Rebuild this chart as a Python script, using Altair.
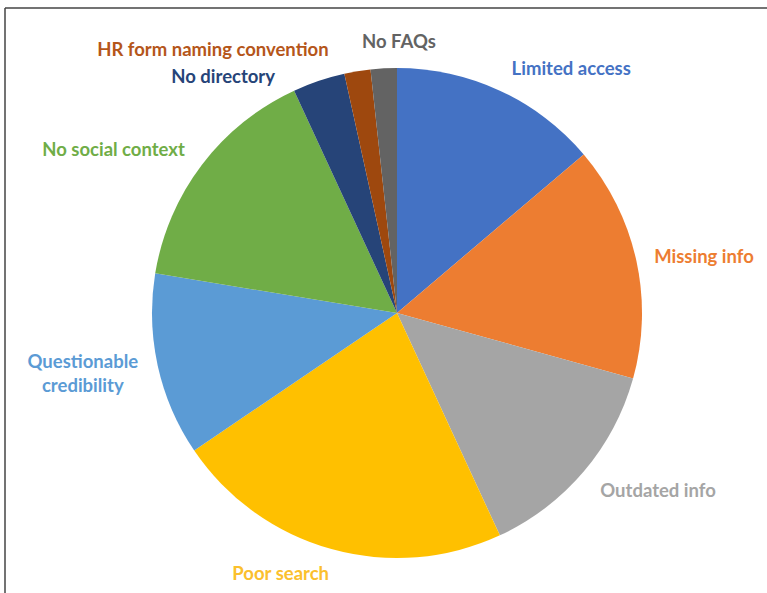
import math
import altair as alt
import pandas as pd

# ---- data ----
categories = [
    "Limited access", "Missing info", "Outdated info", "Poor search",
    "Questionable\ncredibility", "No social context", "No directory",
    "HR form naming convention", "No FAQs",
]
counts = [8, 9, 8, 13, 7, 9, 2, 1, 1]

# ---- styling / layout ----
colors = ["#4472C4", "#ED7D31", "#A5A5A5", "#FFC000", "#5B9BD5",
          "#70AD47", "#264478", "#9E480E", "#636363"]
label_colors = ["#4472C4", "#ED7D31", "#A5A5A5", "#FBC02D", "#5B9BD5",
                "#70AD47", "#264478", "#B5561A", "#636363"]
label_angle_deg = [35.5, 79.7, 124.3, 204.0, 261.1, 299.9, 323.6, 325.0, 0.4]
label_radius_px = [300, 312, 316, 286, 318, 327, 293, 321, 271]
CX, CY, R = 397, 313, 245

df = pd.DataFrame({
    "category": categories,
    "count": counts,
    "order": list(range(len(categories))),
    "lab_theta": [math.radians(a) for a in label_angle_deg],
    "lab_r": label_radius_px,
})

color_scale = alt.Scale(domain=categories, range=colors)

pie = alt.Chart(df).mark_arc(outerRadius=R, stroke=None).encode(
    theta=alt.Theta("count:Q", stack=True),
    order=alt.Order("order:Q"),
    color=alt.Color("category:N", scale=color_scale, legend=None),
    x=alt.value(CX),
    y=alt.value(CY),
)

labels = alt.Chart(df).mark_text(
    font="Lato", fontSize=18.5, fontWeight="bold", lineBreak="\n",
    align="center", baseline="middle", lineHeight=24,
).encode(
    theta=alt.Theta("lab_theta:Q", scale=None, stack=False),
    radius=alt.Radius("lab_r:Q", scale=None),
    text="category:N",
    color=alt.Color("category:N",
                    scale=alt.Scale(domain=categories, range=label_colors),
                    legend=None),
    x=alt.value(CX),
    y=alt.value(CY),
)

frame_df = pd.DataFrame({"k": [0]})
top_line = alt.Chart(frame_df).mark_rule(color="#444444", strokeWidth=1.5).encode(
    x=alt.value(5), x2=alt.value(767), y=alt.value(8))
left_line = alt.Chart(frame_df).mark_rule(color="#444444", strokeWidth=1.5).encode(
    x=alt.value(5), y=alt.value(8), y2=alt.value(593))

chart = alt.layer(pie, labels, top_line, left_line).resolve_scale(
    color="independent"
).properties(
    width=767, height=593, padding=0,
    autosize=alt.AutoSizeParams(type="none"),
    background="white",
).configure_view(stroke=None)

chart.save("out.html", embed_options={"renderer": "svg", "actions": False})
